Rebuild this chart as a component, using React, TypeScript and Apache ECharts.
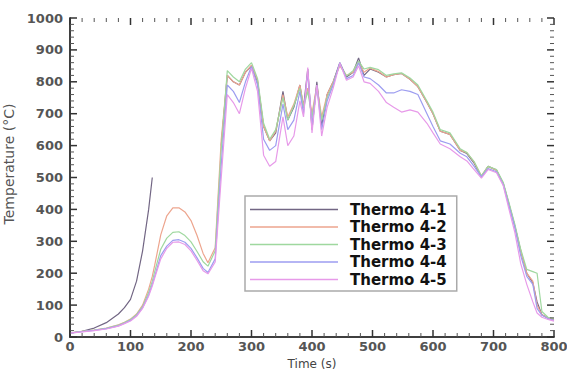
import React, { useEffect, useRef } from "react";
import * as echarts from "echarts";

const times = [0,20,40,60,80,90,100,110,120,130,136,140,150,160,170,180,190,200,210,220,228,240,250,260,270,280,290,300,310,320,330,340,352,360,370,380,386,393,400,408,416,425,435,446,457,468,477,486,496,510,523,535,548,562,575,590,600,612,628,645,656,668,680,691,705,716,725,735,745,755,765,772,780,790,800];

const thermo1 = [12,18,28,45,72,92,118,175,270,400,
500,null,null,null,null,null,null,null,null,null,
null,null,600,820,800,790,830,850,800,660,
615,640,770,680,720,790,720,840,650,800,
660,760,800,860,815,830,875,820,840,830,
815,822,826,808,785,735,700,645,635,585,
575,545,502,535,523,482,420,350,270,200,
170,110,70,60,55];

const thermo2 = [12,18,22,28,38,46,56,72,100,150,
190,225,320,380,405,405,392,365,318,262,
233,280,620,820,800,790,830,852,805,660,
615,645,760,690,730,790,725,780,700,790,
690,760,800,850,820,830,860,830,843,832,
815,822,826,808,785,735,700,645,635,585,
578,548,505,535,523,482,420,350,270,200,
175,100,70,60,55];

const thermo3 = [12,18,22,27,37,45,55,70,96,140,
175,205,275,310,328,330,318,298,268,236,
222,270,590,835,815,800,840,860,810,670,
620,650,750,680,725,780,720,770,690,780,
680,750,795,855,818,835,865,840,845,838,
820,825,828,812,790,740,705,650,640,590,
578,550,505,535,525,485,425,355,275,212,
205,200,80,62,58];

const thermo4 = [12,17,21,26,35,43,52,67,92,132,
165,190,255,285,303,305,297,278,248,215,
202,245,540,790,770,735,800,848,790,620,
585,600,730,650,680,770,700,830,660,790,
650,740,790,860,810,820,860,815,810,790,
765,765,775,770,760,700,660,615,605,576,
565,535,502,528,518,478,415,345,255,190,
165,90,68,58,52];

const thermo5 = [12,16,20,25,34,42,50,65,90,128,
160,185,245,278,297,298,290,270,240,208,
198,235,500,760,735,700,780,842,770,570,
535,550,690,600,630,740,690,845,640,790,
630,720,780,858,805,815,850,800,795,770,
735,720,705,712,705,670,640,605,590,565,
552,525,498,525,515,475,405,330,230,165,
110,75,62,55,50];

const seriesNames = ["Thermo 4-1", "Thermo 4-2", "Thermo 4-3", "Thermo 4-4", "Thermo 4-5"];
const seriesValues = [thermo1, thermo2, thermo3, thermo4, thermo5];
const seriesColors = ["#726684", "#eda58e", "#9fd89f", "#9d9df0", "#e79ae9"];

const xMajorTicks = [0, 100, 200, 300, 400, 500, 600, 700, 800];
const yMajorTicks = [0, 100, 200, 300, 400, 500, 600, 700, 800, 900, 1000];
const minorSteps = [20, 40, 60, 80];
const xMinorTicks = xMajorTicks.slice(0, -1).flatMap((v) => minorSteps.map((d) => v + d));
const yMinorTicks = yMajorTicks.slice(0, -1).flatMap((v) => minorSteps.map((d) => v + d));

const X_MIN = 0, X_MAX = 800, Y_MIN = 0, Y_MAX = 1000;

type TickItem = { axis: "x" | "y"; v: number; major: boolean };
const tickItems: TickItem[] = [
  ...xMajorTicks.map((v) => ({ axis: "x" as const, v, major: true })),
  ...xMinorTicks.map((v) => ({ axis: "x" as const, v, major: false })),
  ...yMajorTicks.map((v) => ({ axis: "y" as const, v, major: true })),
  ...yMinorTicks.map((v) => ({ axis: "y" as const, v, major: false })),
];

const FONT = "DejaVu Sans";

export default function App() {
  const ref = useRef<HTMLDivElement>(null);
  useEffect(() => {
    document.body.style.margin = "0";
    if (!ref.current) return;
    const chart = echarts.init(ref.current, undefined, { renderer: "svg" });
    const labelStyle = { fontFamily: FONT, fontWeight: "bold" as const, fontSize: 13, color: "#555" };
    const axisLine = { show: true, lineStyle: { color: "#333", width: 1.5 } };
    const noTicks = { axisTick: { show: false }, minorTick: { show: false }, splitLine: { show: false } };

    const renderTick = (params: any, api: any) => {
      const t = tickItems[params.dataIndex];
      const len = t.major ? 7 : 4;
      const style = { stroke: t.major ? "#333" : "#555", lineWidth: t.major ? 1.5 : 1 };
      if (t.axis === "x") {
        const b = api.coord([t.v, Y_MIN]);
        const top = api.coord([t.v, Y_MAX]);
        return {
          type: "group",
          children: [
            { type: "line", shape: { x1: b[0], y1: b[1], x2: b[0], y2: b[1] - len }, style },
            { type: "line", shape: { x1: top[0], y1: top[1], x2: top[0], y2: top[1] + len }, style },
          ],
        };
      }
      const l = api.coord([X_MIN, t.v]);
      const r = api.coord([X_MAX, t.v]);
      return {
        type: "group",
        children: [
          { type: "line", shape: { x1: l[0], y1: l[1], x2: l[0] + len, y2: l[1] }, style },
          { type: "line", shape: { x1: r[0], y1: r[1], x2: r[0] - len, y2: r[1] }, style },
        ],
      };
    };

    chart.setOption({
      animation: false,
      grid: { left: 70, top: 18, right: 13, bottom: 35, outerBoundsMode: "none" },
      legend: {
        orient: "vertical",
        left: 245,
        top: 196,
        padding: [6, 10, 4, 5],
        icon: "rect",
        itemWidth: 88,
        itemHeight: 1.5,
        itemGap: 2.5,
        borderColor: "#aaa",
        borderWidth: 1.5,
        backgroundColor: "#fff",
        data: seriesNames,
        textStyle: { fontFamily: FONT, fontWeight: "bold", fontSize: 15, color: "#111", lineHeight: 14, padding: [0, 0, 0, 7] },
      },
      xAxis: [
        {
          type: "value", min: X_MIN, max: X_MAX, interval: 100, axisLine, ...noTicks,
          axisLabel: { ...labelStyle, margin: 3, formatter: (v: number) => String(v) },
          name: "Time (s)", nameLocation: "middle", nameGap: 19,
          nameTextStyle: { fontFamily: FONT, fontSize: 12, color: "#444" },
        },
        {
          type: "value", position: "top", min: X_MIN, max: X_MAX, interval: 100, axisLine, ...noTicks,
          axisLabel: { show: false },
        },
      ],
      yAxis: [
        {
          type: "value", min: Y_MIN, max: Y_MAX, interval: 100, axisLine, ...noTicks,
          axisLabel: { ...labelStyle, margin: 7, formatter: (v: number) => String(v) },
          name: "Temperature (°C)", nameLocation: "middle", nameGap: 38,
          nameTextStyle: { fontFamily: FONT, fontSize: 14, color: "#555", padding: [0, 0, 0, 27] },
        },
        {
          type: "value", position: "right", min: Y_MIN, max: Y_MAX, interval: 100, axisLine, ...noTicks,
          axisLabel: { show: false },
        },
      ],
      series: [
        ...seriesNames.map((name, k) => ({
          name,
          type: "line",
          xAxisIndex: 0,
          yAxisIndex: 0,
          symbol: "none",
          connectNulls: false,
          lineStyle: { color: seriesColors[k], width: 1.2 },
          itemStyle: { color: seriesColors[k] },
          data: times.map((t, i) => [t, seriesValues[k][i]]),
        })),
        {
          name: "axis ticks",
          type: "custom",
          coordinateSystem: "cartesian2d",
          xAxisIndex: 0,
          yAxisIndex: 0,
          silent: true,
          clip: false,
          z: 5,
          encode: { x: 0, y: 1 },
          renderItem: renderTick,
          data: tickItems.map((t) => (t.axis === "x" ? [t.v, Y_MIN] : [X_MIN, t.v])),
        },
      ],
    });
    return () => chart.dispose();
  }, []);
  return <div ref={ref} style={{ width: 567, height: 372 }} />;
}
